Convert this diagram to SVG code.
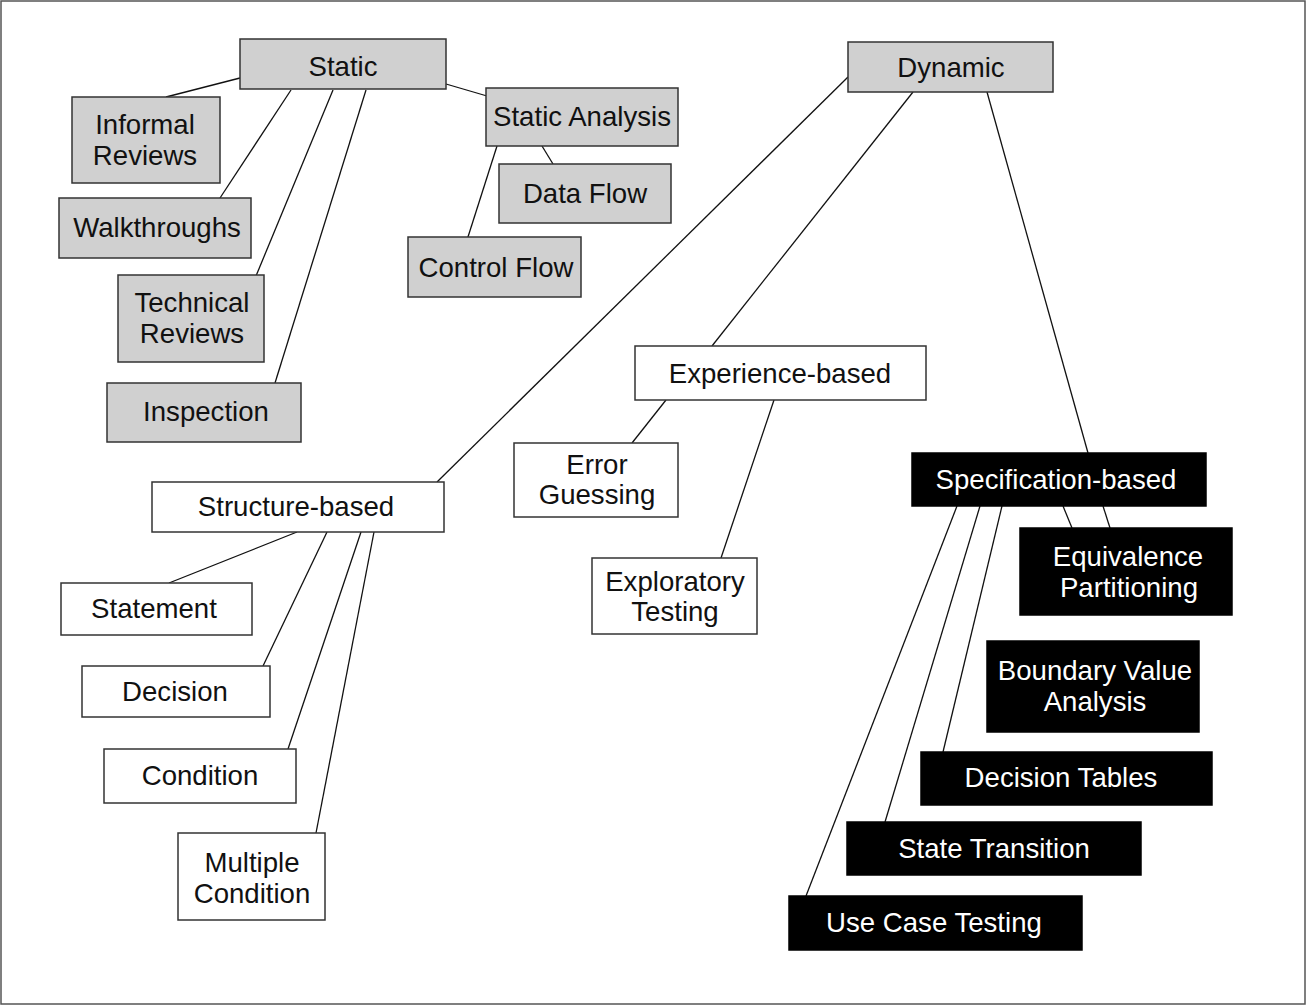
<svg xmlns="http://www.w3.org/2000/svg" width="1307" height="1006" viewBox="0 0 1307 1006">
<style>
.frame{fill:#fff;stroke:#555;stroke-width:1.5}
.g rect{fill:#d0d0d0;stroke:#333;stroke-width:1.5}
.w rect{fill:#fff;stroke:#333;stroke-width:1.5}
.b rect{fill:#000;stroke:#000;stroke-width:1.5}
text{font-family:"Liberation Sans",Arial,sans-serif;font-size:27.6px;text-anchor:middle}
.g text,.w text{fill:#111}
.b text{fill:#fff}
#connectors line{stroke:#111;stroke-width:1.3}
</style>
<rect class="frame" x="1" y="1" width="1304" height="1003"/>
<g id="connectors">
<line x1="240" y1="78" x2="166" y2="97"/>
<line x1="291" y1="90" x2="220" y2="198"/>
<line x1="333" y1="90" x2="256" y2="276"/>
<line x1="366" y1="90" x2="275" y2="383"/>
<line x1="446" y1="84" x2="487" y2="96"/>
<line x1="542" y1="146" x2="553" y2="164"/>
<line x1="497" y1="146" x2="467" y2="240"/>
<line x1="848" y1="77" x2="437" y2="482"/>
<line x1="913" y1="92" x2="712" y2="346"/>
<line x1="987" y1="92" x2="1088" y2="453"/>
<line x1="666" y1="400" x2="632" y2="443"/>
<line x1="774" y1="400" x2="721" y2="558"/>
<line x1="297" y1="532" x2="169" y2="583"/>
<line x1="327" y1="532" x2="263" y2="666"/>
<line x1="361" y1="532" x2="288" y2="749"/>
<line x1="374" y1="532" x2="316" y2="833"/>
<line x1="1063" y1="506" x2="1072" y2="528"/>
<line x1="1103" y1="506" x2="1110" y2="528"/>
<line x1="957" y1="506" x2="806" y2="896"/>
<line x1="980" y1="506" x2="885" y2="822"/>
<line x1="1002" y1="506" x2="943" y2="752"/>
</g>
<g id="static" class="g"><rect x="240" y="39" width="206" height="50"/><text x="343" y="76">Static</text></g>
<g id="informal-reviews" class="g"><rect x="72" y="97" width="148" height="86"/><text x="145" y="134">Informal</text><text x="145" y="165">Reviews</text></g>
<g id="walkthroughs" class="g"><rect x="59" y="198" width="192" height="60"/><text x="157" y="237">Walkthroughs</text></g>
<g id="technical-reviews" class="g"><rect x="118" y="275" width="146" height="87"/><text x="192" y="312">Technical</text><text x="192" y="343">Reviews</text></g>
<g id="inspection" class="g"><rect x="107" y="383" width="194" height="59"/><text x="206" y="421">Inspection</text></g>
<g id="static-analysis" class="g"><rect x="486" y="88" width="192" height="58"/><text x="582" y="126">Static Analysis</text></g>
<g id="data-flow" class="g"><rect x="499" y="164" width="172" height="59"/><text x="585" y="203">Data Flow</text></g>
<g id="control-flow" class="g"><rect x="408" y="237" width="173" height="60"/><text x="496" y="277">Control Flow</text></g>
<g id="dynamic" class="g"><rect x="848" y="42" width="205" height="50"/><text x="951" y="77">Dynamic</text></g>
<g id="experience-based" class="w"><rect x="635" y="346" width="291" height="54"/><text x="780" y="383">Experience-based</text></g>
<g id="error-guessing" class="w"><rect x="514" y="443" width="164" height="74"/><text x="597" y="474">Error</text><text x="597" y="504">Guessing</text></g>
<g id="exploratory-testing" class="w"><rect x="592" y="558" width="165" height="76"/><text x="675" y="591">Exploratory</text><text x="675" y="621">Testing</text></g>
<g id="structure-based" class="w"><rect x="152" y="482" width="292" height="50"/><text x="296" y="516">Structure-based</text></g>
<g id="statement" class="w"><rect x="61" y="583" width="191" height="52"/><text x="154" y="618">Statement</text></g>
<g id="decision" class="w"><rect x="82" y="666" width="188" height="51"/><text x="175" y="701">Decision</text></g>
<g id="condition" class="w"><rect x="104" y="749" width="192" height="54"/><text x="200" y="785">Condition</text></g>
<g id="multiple-condition" class="w"><rect x="178" y="833" width="147" height="87"/><text x="252" y="872">Multiple</text><text x="252" y="903">Condition</text></g>
<g id="specification-based" class="b"><rect x="912" y="453" width="294" height="53"/><text x="1056" y="489">Specification-based</text></g>
<g id="equivalence-partitioning" class="b"><rect x="1020" y="528" width="212" height="87"/><text x="1128" y="566">Equivalence</text><text x="1129" y="597">Partitioning</text></g>
<g id="boundary-value-analysis" class="b"><rect x="987" y="641" width="212" height="91"/><text x="1095" y="680">Boundary Value</text><text x="1095" y="711">Analysis</text></g>
<g id="decision-tables" class="b"><rect x="921" y="752" width="291" height="53"/><text x="1061" y="787">Decision Tables</text></g>
<g id="state-transition" class="b"><rect x="847" y="822" width="294" height="53"/><text x="994" y="858">State Transition</text></g>
<g id="use-case-testing" class="b"><rect x="789" y="896" width="293" height="54"/><text x="934" y="932">Use Case Testing</text></g>
</svg>
